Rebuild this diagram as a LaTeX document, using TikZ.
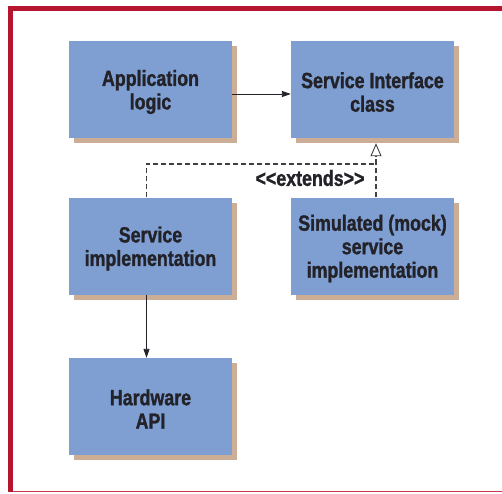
\documentclass[tikz,border=0pt]{standalone}
\usepackage{fontspec}
\setmainfont{Liberation Sans}[FakeStretch=0.81, BoldFeatures={FakeStretch=0.81, FakeBold=1.2}]
\usetikzlibrary{arrows.meta,shadows}
\definecolor{boxblue}{HTML}{7F9FD3}
\definecolor{boxshadow}{HTML}{CCAE96}
\definecolor{framered}{HTML}{B5152F}
\definecolor{framered2}{HTML}{C8384F}
\definecolor{txt}{HTML}{222228}
\begin{document}
\begin{tikzpicture}[x=1pt,y=1pt,
  txtfont/.style={text=txt, font=\fontsize{22}{23.5}\selectfont\bfseries},
  cls/.style={rectangle, fill=boxblue, minimum width=163pt, minimum height=97pt, inner sep=0pt,
    drop shadow={shadow xshift=5pt, shadow yshift=-5pt, fill=boxshadow, opacity=1}},
  boxtext/.style={txtfont, align=center, inner sep=0pt, yshift=-2.5pt},
  assoc/.style={draw=txt, line width=0.9pt, -{Triangle[length=9pt,width=6pt]}},
  ext/.style={draw=black!75, line width=1.2pt, dash pattern=on 5pt off 3pt},
  lbl/.style={txtfont, inner sep=0pt}]
\useasboundingbox (0,0) rectangle (502,-493);
\fill[white] (0,0) rectangle (502,-493);
% frame
\fill[framered] (8,-6) rectangle (502,-11);
\fill[framered] (8,-6) rectangle (13,-492);
\fill[framered2] (13,-491) rectangle (502,-492.3);
% nodes
\node[cls, label={[boxtext]center:Application\\logic}] (app) at (150.5,-89.5) {};
\node[cls, label={[boxtext]center:Service Interface\\class}] (si) at (372.5,-89.5) {};
\node[cls, label={[boxtext]center:Service\\implementation}] (impl) at (150.5,-246) {};
\node[cls, label={[boxtext]center:Simulated (mock)\\service\\implementation}] (sim) at (372.5,-246) {};
\node[cls, label={[boxtext]center:Hardware\\API}] (hw) at (150.5,-406.5) {};
% connectors
\draw[assoc] (app.east |- 0,-94) -- (si.west |- 0,-94);
\draw[assoc] ([xshift=-4pt]impl.south) -- ([xshift=-4pt]hw.north);
\coordinate (j) at (376,-164);
\draw[ext] ([xshift=-4pt]impl.north) |- (j);
\draw[ext] ([xshift=3.5pt]sim.north) -- (j);
\draw[ext, -{Triangle[open, fill=white, length=13pt, width=11pt, line width=0.9pt]}] (j) -- ([xshift=3.5pt,yshift=-5pt]si.south);
\node[lbl] (extl) at (310,-178) {<{}<extends>{}>};
\end{tikzpicture}
\end{document}
